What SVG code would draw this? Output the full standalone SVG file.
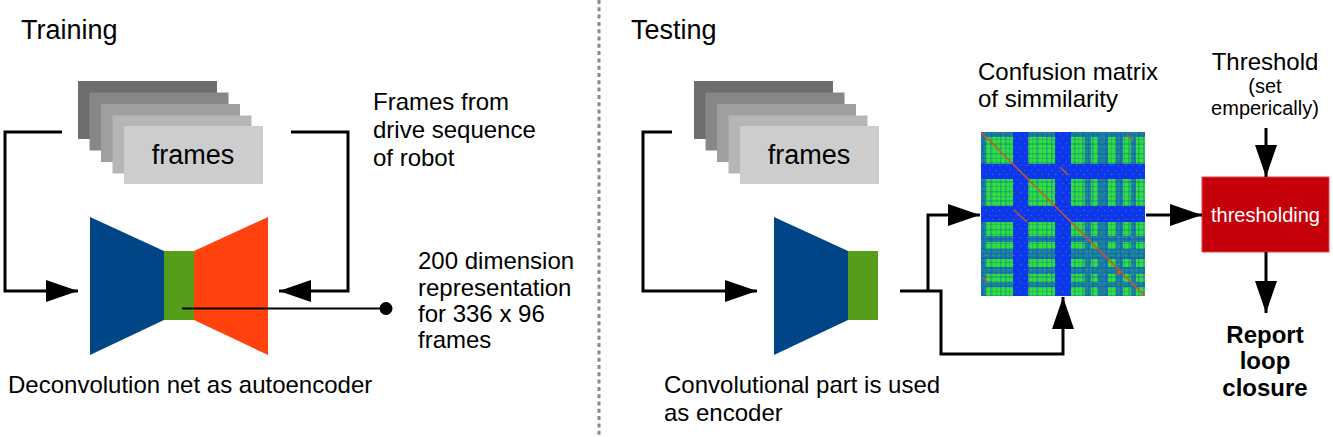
<svg xmlns="http://www.w3.org/2000/svg" width="1333" height="437" viewBox="0 0 1333 437">
<defs>
<style>
text{font-family:"Liberation Sans",Arial,sans-serif;fill:#000}
.t24{font-size:24px}
.title{font-size:27px}
.fr{font-size:27px;text-anchor:middle}
.c{text-anchor:middle}
.b{font-weight:bold}
.conn{fill:none;stroke:#000;stroke-width:3}
.thin{fill:none;stroke:#000;stroke-width:2}
.g1{fill:#6e6e6e}.g2{fill:#878787}.g3{fill:#9f9f9f}.g4{fill:#b6b6b6}.g5{fill:#cdcdcd}
.blue{fill:#004586}.green{fill:#579d1c}.orange{fill:#ff420e}
.mb{fill:#0e36ec}
</style>
<marker id="ah" markerUnits="userSpaceOnUse" markerWidth="32" markerHeight="22" refX="32" refY="11" orient="auto">
<path d="M0,0 L32,11 L0,22 Z" fill="#000"/>
</marker>
<pattern id="vs" patternUnits="userSpaceOnUse" width="23" height="164">
<rect x="1" y="0" width="1.5" height="164" fill="#1438e0" opacity="0.3"/>
<rect x="5" y="0" width="1" height="164" fill="#1438e0" opacity="0.2"/>
<rect x="9" y="0" width="2.5" height="164" fill="#1438e0" opacity="0.25"/>
<rect x="15" y="0" width="1" height="164" fill="#1438e0" opacity="0.2"/>
<rect x="19" y="0" width="1.5" height="164" fill="#1438e0" opacity="0.3"/>
</pattern>
<pattern id="hs" patternUnits="userSpaceOnUse" width="164" height="19">
<rect x="0" y="2" width="164" height="1.5" fill="#1438e0" opacity="0.28"/>
<rect x="0" y="7" width="164" height="1" fill="#1438e0" opacity="0.2"/>
<rect x="0" y="11" width="164" height="2" fill="#1438e0" opacity="0.25"/>
<rect x="0" y="16" width="164" height="1" fill="#1438e0" opacity="0.2"/>
</pattern>
<pattern id="gs" patternUnits="userSpaceOnUse" width="7" height="9">
<rect x="1" y="2" width="1" height="1" fill="#30e030" opacity="0.45"/>
<rect x="4" y="6" width="1.5" height="1" fill="#30e030" opacity="0.45"/>
</pattern>
<clipPath id="mclip"><rect x="0" y="0" width="164" height="164"/></clipPath>
</defs>
<rect x="0" y="0" width="1333" height="437" fill="#fff"/>

<line x1="599" y1="0" x2="599" y2="437" stroke="#8a8a8a" stroke-width="3" stroke-dasharray="4 3.3"/>

<g id="title-training"><text class="title" x="21" y="39">Training</text></g>
<g id="title-testing"><text class="title" x="631" y="39">Testing</text></g>

<g id="frames-training">
<rect class="g1" x="78" y="81" width="139" height="58"/>
<rect class="g2" x="89.5" y="92.5" width="139" height="58"/>
<rect class="g3" x="101" y="104" width="139" height="58"/>
<rect class="g4" x="112.5" y="115.5" width="139" height="58"/>
<rect class="g5" x="124" y="126" width="139" height="58"/>
<text class="fr" x="193" y="164">frames</text>
</g>

<g id="label-frames-from">
<text class="t24" x="373" y="109.5">Frames from</text>
<text class="t24" x="373" y="137.5">drive sequence</text>
<text class="t24" x="373" y="165.5">of robot</text>
</g>

<g id="autoencoder">
<polygon class="blue" points="90,217 164,251 164,320 90,355"/>
<rect class="green" x="164" y="251" width="30" height="69"/>
<polygon class="orange" points="194,251 268,217 268,355 194,320"/>
</g>

<g id="label-autoencoder"><text class="t24" x="8" y="393">Deconvolution net as autoencoder</text></g>

<g id="label-200">
<text class="t24" x="418" y="268.5">200 dimension</text>
<text class="t24" x="418" y="295.5">representation</text>
<text class="t24" x="418" y="322">for 336 x 96</text>
<text class="t24" x="418" y="348">frames</text>
</g>

<g id="frames-testing">
<rect class="g1" x="694" y="81" width="139" height="58"/>
<rect class="g2" x="705.5" y="92.5" width="139" height="58"/>
<rect class="g3" x="717" y="104" width="139" height="58"/>
<rect class="g4" x="728.5" y="115.5" width="139" height="58"/>
<rect class="g5" x="740" y="126" width="139" height="58"/>
<text class="fr" x="809" y="164">frames</text>
</g>

<g id="encoder">
<polygon class="blue" points="774,217 848,251 848,320 774,355"/>
<rect class="green" x="848" y="251" width="30" height="69"/>
</g>

<g id="label-encoder">
<text class="t24" x="664" y="393">Convolutional part is used</text>
<text class="t24" x="664" y="421">as encoder</text>
</g>

<g id="label-confusion">
<text class="t24" x="978" y="80">Confusion matrix</text>
<text class="t24" x="978" y="106.5">of simmilarity</text>
</g>

<g id="matrix" transform="translate(981,132)">
<g clip-path="url(#mclip)">
<rect x="0" y="0" width="164" height="164" fill="#2ee238"/>
<rect x="0" y="0" width="164" height="164" fill="url(#vs)"/>
<rect x="0" y="0" width="164" height="164" fill="url(#hs)"/>
<g class="mb">
<rect x="32" y="0" width="15" height="164"/>
<rect x="74" y="0" width="16" height="164"/>
<rect x="0" y="32" width="164" height="15"/>
<rect x="0" y="74" width="164" height="16"/>
</g>
<g class="mb" opacity="0.55">
<rect x="0" y="0" width="5" height="164"/>
<rect x="0" y="0" width="164" height="5"/>
<rect x="104" y="0" width="6" height="164"/>
<rect x="0" y="104" width="164" height="6"/>
<rect x="117" y="0" width="10" height="164"/>
<rect x="0" y="117" width="164" height="10"/>
<rect x="135" y="0" width="7" height="164"/>
<rect x="0" y="135" width="164" height="7"/>
<rect x="150" y="0" width="5" height="164"/>
<rect x="0" y="150" width="164" height="5"/>
</g>
<rect x="0" y="0" width="164" height="164" fill="url(#gs)"/>
<line x1="0" y1="0" x2="164" y2="164" stroke="#d8501a" stroke-width="1.5"/>
<line x1="33" y1="78" x2="46" y2="90" stroke="#c8601a" stroke-width="1.2"/>
<line x1="79" y1="35" x2="87" y2="43" stroke="#c8601a" stroke-width="1.2"/>
<line x1="146" y1="3" x2="152" y2="8" stroke="#c8601a" stroke-width="1.2"/>
<line x1="2" y1="145" x2="7" y2="151" stroke="#c8601a" stroke-width="1.2"/>
<rect x="136" y="139" width="3" height="3" fill="#d8501a"/>
</g>
</g>

<g id="threshold-label">
<text class="t24 c" x="1265" y="70">Threshold</text>
<text class="c" x="1265" y="93" style="font-size:20px">(set</text>
<text class="c" x="1265" y="115" style="font-size:20px">emperically)</text>
</g>

<g id="thresholding">
<rect x="1202" y="177" width="127" height="75" fill="#c5000b" stroke="#e04848" stroke-width="1"/>
<text class="c" x="1265.5" y="222" style="font-size:20px;fill:#fff">thresholding</text>
</g>

<g id="report">
<text class="t24 c b" x="1265" y="343">Report</text>
<text class="t24 c b" x="1265" y="369">loop</text>
<text class="t24 c b" x="1265" y="396">closure</text>
</g>

<g id="connectors">
<path class="conn" d="M62,132 H5 V291 H78" marker-end="url(#ah)"/>
<path class="conn" d="M291,132 H348 V291 H279" marker-end="url(#ah)"/>
<path class="thin" d="M182,308.5 H386"/>
<circle cx="386" cy="308.5" r="6.5" fill="#000"/>
<path class="conn" d="M672,132 H643 V291 H757" marker-end="url(#ah)"/>
<path class="conn" d="M900,291 H941 V354 H1063 V297" marker-end="url(#ah)"/>
<path class="conn" d="M928,291 V215 H980" marker-end="url(#ah)"/>
<path class="conn" d="M1146,215 H1202" marker-end="url(#ah)"/>
<path class="conn" d="M1266,128 V177" marker-end="url(#ah)"/>
<path class="conn" d="M1266,252 V313" marker-end="url(#ah)"/>
</g>
</svg>
